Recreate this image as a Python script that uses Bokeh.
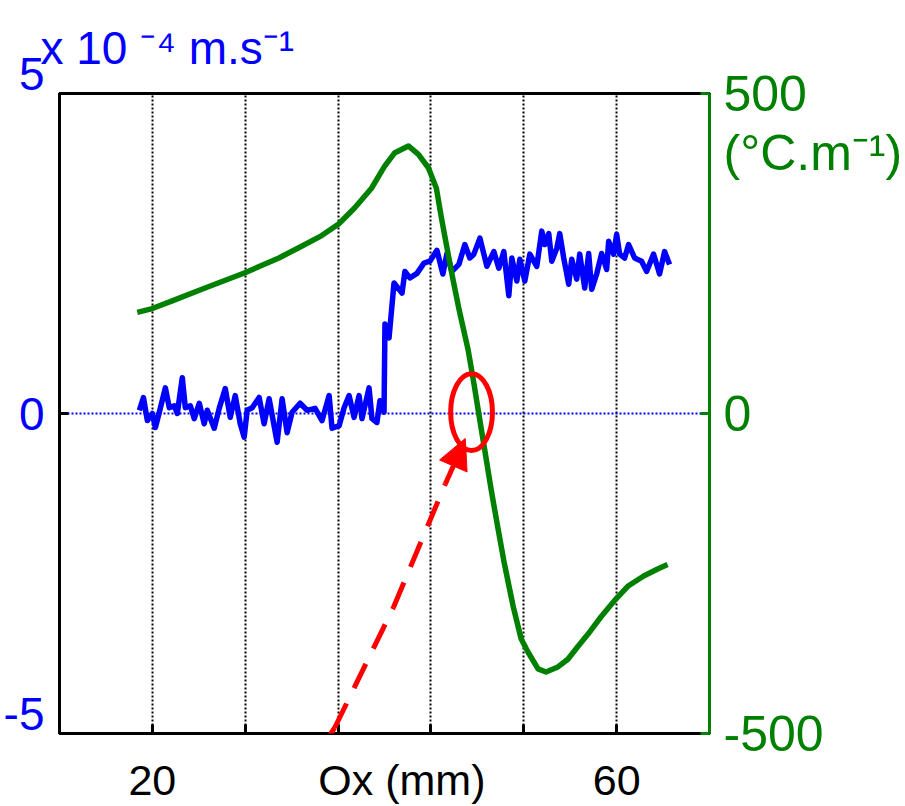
from bokeh.plotting import figure
from bokeh.models import (Range1d, LinearAxis, Span, Arrow, NormalHead,
                          FixedTicker, ColumnDataSource)
from bokeh.embed import file_html
from bokeh.resources import INLINE

# ---------------- data ----------------
x_ticks = [20, 28, 36, 44, 52, 60]          # grid / tick positions (mm)
x_label_pos = [20, 41.5, 60]                  # where the bottom texts sit
x_label_text = ["20", "Ox (mm)", "60"]
vel_ticks = [-5, 0, 5]
vel_tick_text = ["-5\n", "0", "5\n"]
vel_unit = "x 10 \u207b\u2074 m.s\u207b\u00b9"
grad_ticks = [-500, 0, 500]
grad_tick_text = ["-500", "0", "\n500\n(\u00b0C.m\u207b\u00b9)"]

# velocity (x 10^-4 m/s), left axis
vel_x = [18.88, 19.23, 19.57, 20.00, 20.26, 20.60, 21.12, 21.46, 21.89, 22.15,
         22.58, 22.84, 23.27, 23.61, 24.04, 24.47, 24.73, 25.33, 25.76, 26.28,
         26.71, 27.14, 27.57, 27.91, 28.17, 28.60, 29.20, 29.63, 30.06, 30.75,
         31.18, 31.61, 32.04, 32.73, 33.33, 34.02, 34.62, 35.23, 35.48, 36.09,
         36.52, 36.95, 37.38, 37.81, 38.06, 38.67, 38.92, 39.35, 39.61, 39.96,
         40.04, 40.39, 40.82, 41.51, 41.76, 42.19, 42.80, 43.40, 43.91, 44.52,
         45.03, 45.38, 45.81, 46.41, 46.92, 47.35, 47.70, 48.22, 48.82, 49.42,
         49.85, 50.28, 50.71, 50.97, 51.40, 51.66, 52.09, 52.52, 53.12, 53.55,
         53.81, 54.15, 54.41, 54.84, 55.10, 55.44, 55.87, 56.13, 56.56, 56.82,
         57.25, 57.59, 57.85, 58.28, 58.71, 59.14, 59.31, 59.74, 60.00, 60.26,
         60.69, 61.03, 61.55, 62.15, 62.58, 63.18, 63.70, 64.13, 64.56]
vel_y = [0.05, 0.25, -0.11, 0.00, -0.22, 0.02, 0.40, 0.09, 0.12, 0.00,
         0.56, 0.09, 0.12, -0.08, 0.16, -0.16, 0.05, -0.23, 0.08, 0.39,
         -0.06, 0.28, -0.16, -0.37, 0.05, 0.09, 0.25, -0.16, 0.23, -0.45,
         0.23, -0.30, 0.02, 0.16, 0.05, 0.08, -0.11, 0.28, -0.23, -0.19,
         0.09, 0.28, -0.06, 0.28, -0.08, 0.40, -0.08, -0.14, 0.20, 0.02,
         1.40, 1.18, 2.04, 1.88, 2.22, 2.12, 2.19, 2.35, 2.38, 2.55,
         2.18, 2.50, 2.22, 2.33, 2.64, 2.43, 2.49, 2.74, 2.30, 2.53,
         2.27, 2.53, 1.84, 2.43, 2.07, 2.41, 2.07, 2.49, 2.30, 2.85,
         2.64, 2.81, 2.38, 2.58, 2.81, 2.43, 2.02, 2.41, 2.10, 2.49,
         1.96, 2.50, 1.94, 2.18, 2.50, 2.25, 2.69, 2.49, 2.80, 2.49,
         2.43, 2.64, 2.43, 2.38, 2.22, 2.49, 2.18, 2.53, 2.33]

# temperature gradient (°C/m), right axis
grad_x = [18.70, 19.99, 21.71, 24.54, 27.98, 30.90, 32.61, 34.59, 36.05, 37.42,
          38.88, 40.00, 40.86, 42.06, 42.92, 43.78, 44.47, 44.90, 45.75, 46.44,
          47.21, 47.73, 48.12, 48.59, 49.19, 49.79, 50.31, 51.08, 51.77, 52.37,
          53.23, 53.91, 54.94, 55.80, 56.66, 57.52, 58.64, 59.93, 60.96, 62.33,
          63.53, 64.39]
grad_y = [158, 164, 176, 196, 220, 243, 259, 278, 296, 321,
          352, 386, 407, 418, 405, 384, 352, 306, 223, 161,
          99, 44, 0, -52, -119, -181, -233, -301, -352, -373,
          -399, -404, -396, -384, -364, -345, -318, -290, -270, -254,
          -243, -236]

# annotation (red ellipse + dashed arrow), in data units
ell_x, ell_y, ell_w, ell_h = 47.5, 0.02, 3.6, 1.2
arrow_x = [31.07, 35.71, 40.77, 45.24, 45.93]
arrow_y = [-6.20, -4.91, -3.03, -1.10, -0.82]
arrow_tip = (46.96, -0.39)

BLUE = "#0000ff"
GREEN = "#008000"
RED = "#ff0000"
FONT = "Liberation Sans"

p = figure(width=905, height=806, x_range=Range1d(12, 68), y_range=Range1d(-5, 5),
           output_backend="svg", toolbar_location=None,
           min_border_left=57, min_border_right=196, min_border_top=92,
           min_border_bottom=71)
p.extra_y_ranges = {"grad": Range1d(-500, 500)}
p.background_fill_color = "white"
p.border_fill_color = "white"
p.outline_line_color = "black"
p.outline_line_width = 3

# title = unit of the left axis
p.title.text = vel_unit
p.title.align = "left"
p.title.offset = -19
p.title.standoff = 39
p.title.text_font = FONT
p.title.text_font_size = "46px"
p.title.text_font_style = "normal"
p.title.text_color = BLUE

# bottom axis
ax = p.xaxis[0]
ax.ticker = FixedTicker(ticks=x_label_pos, minor_ticks=x_ticks)
ax.major_label_overrides = dict(zip(x_label_pos, x_label_text))
ax.major_label_text_font = FONT
ax.major_label_text_font_size = "43px"
ax.major_label_text_color = "black"
ax.major_label_standoff = 22
ax.axis_line_color = "black"
ax.axis_line_width = 3
ax.major_tick_in = 0
ax.major_tick_out = 0
ax.minor_tick_in = 9
ax.minor_tick_out = 0
ax.minor_tick_line_color = "black"
ax.minor_tick_line_width = 3

# left axis
ay = p.yaxis[0]
ay.ticker = FixedTicker(ticks=vel_ticks, minor_ticks=[])
ay.major_label_overrides = dict(zip(vel_ticks, vel_tick_text))
ay.major_label_text_font = FONT
ay.major_label_text_font_size = "46px"
ay.major_label_text_color = BLUE
ay.major_label_text_line_height = 0.74
ay.major_label_standoff = 15
ay.axis_line_color = "black"
ay.axis_line_width = 3
ay.major_tick_in = 9
ay.major_tick_out = 0
ay.major_tick_line_width = 3
ay.minor_tick_line_color = None

# right axis
ra = LinearAxis(y_range_name="grad", ticker=FixedTicker(ticks=grad_ticks, minor_ticks=[]))
ra.major_label_overrides = dict(zip(grad_ticks, grad_tick_text))
ra.axis_line_color = GREEN
ra.axis_line_width = 3
ra.major_tick_in = 9
ra.major_tick_out = 0
ra.major_tick_line_color = GREEN
ra.major_tick_line_width = 3
ra.minor_tick_line_color = None
ra.major_label_text_color = GREEN
ra.major_label_text_font = FONT
ra.major_label_text_font_size = "50px"
ra.major_label_text_line_height = 1.06
ra.major_label_standoff = 14
p.add_layout(ra, "right")

p.xgrid.ticker = FixedTicker(ticks=x_ticks, minor_ticks=[])
p.xgrid.grid_line_color = "black"
p.xgrid.grid_line_dash = "2 2"
p.xgrid.grid_line_width = 2
p.ygrid.grid_line_color = None

zero = Span(location=0, dimension="width", line_color=BLUE, line_dash="2 2",
            line_width=2, level="underlay")
p.add_layout(zero)

p.line(vel_x, vel_y, line_color=BLUE, line_width=5.5, line_join="round")
p.line(grad_x, grad_y, y_range_name="grad", line_color=GREEN, line_width=5.5,
       line_join="round")

p.ellipse(x=[ell_x], y=[ell_y], width=[ell_w], height=[ell_h], fill_color=None,
          line_color=RED, line_width=5)

seg = ColumnDataSource(dict(x0=arrow_x[:-1], y0=arrow_y[:-1], x1=arrow_x[1:], y1=arrow_y[1:]))
p.add_layout(Arrow(end=None, x_start="x0", y_start="y0", x_end="x1", y_end="y1",
                   source=seg, line_color=RED, line_width=5, line_dash="27 17"))
p.add_layout(Arrow(end=NormalHead(size=30, fill_color=RED, line_color=RED, line_width=1),
                   x_start=arrow_x[-1], y_start=arrow_y[-1],
                   x_end=arrow_tip[0], y_end=arrow_tip[1], line_color=None))

open("out.html", "w").write(file_html(p, INLINE))
